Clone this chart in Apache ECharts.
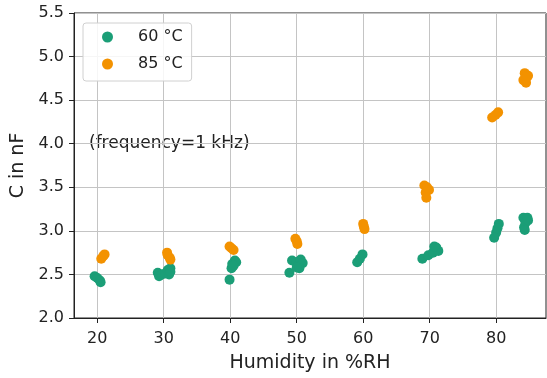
<!DOCTYPE html>
<html>
<head>
<meta charset="utf-8">
<script src="https://cdn.jsdelivr.net/npm/echarts@6/dist/echarts.min.js"></script>
<style>
  html, body { margin: 0; padding: 0; background: #ffffff; }
  #chart { width: 547px; height: 378px; }
</style>
</head>
<body>
<div id="chart"></div>
<script>
// 数据：湿度 (%RH) 与电容 (nF)
const humidity60 = [
  19.6, 20.0, 20.4, 20.5,
  29.1, 29.3, 29.7, 30.2, 30.6, 31.0, 30.8, 31.0,
  39.9, 40.2, 40.3, 40.7, 40.9, 40.5,
  48.9, 49.3, 49.9, 50.3, 50.6, 50.9, 50.4, 50.0,
  59.1, 59.5, 59.9,
  68.9, 69.8, 70.5, 71.0, 71.3, 70.7,
  80.4, 80.2, 80.0, 79.7,
  84.1, 84.7, 84.4, 84.2, 84.3, 84.8
];
const cap60 = [
  2.48, 2.46, 2.43, 2.41,
  2.52, 2.48, 2.50, 2.51, 2.55, 2.57, 2.50, 2.53,
  2.44, 2.57, 2.62, 2.66, 2.64, 2.60,
  2.52, 2.66, 2.64, 2.61, 2.67, 2.63, 2.57, 2.58,
  2.64, 2.68, 2.73,
  2.68, 2.72, 2.75, 2.81, 2.77, 2.82,
  3.08, 3.03, 2.98, 2.92,
  3.15, 3.15, 3.09, 3.04, 3.01, 3.12
];
const humidity85 = [
  20.6, 20.9, 21.1,
  30.5, 30.6, 30.9, 31.0,
  39.9, 40.2, 40.5,
  49.8, 50.0, 50.1,
  60.0, 60.1, 60.2,
  69.2, 69.6, 69.9, 69.4, 69.5,
  79.4, 79.9, 80.3,
  84.3, 84.8, 84.1, 84.5, 84.6
];
const cap85 = [
  2.68, 2.71, 2.73,
  2.75, 2.72, 2.69, 2.67,
  2.82, 2.80, 2.78,
  2.91, 2.88, 2.85,
  3.08, 3.05, 3.02,
  3.52, 3.50, 3.47, 3.44, 3.38,
  4.30, 4.33, 4.36,
  4.81, 4.78, 4.73, 4.70, 4.76
];
const xTicks = [20, 30, 40, 50, 60, 70, 80];
const seriesNames = ['60 °C', '85 °C'];

const FONT = '"DejaVu Sans", sans-serif';
const INK = '#222';

function zip(xs, ys) {
  return xs.map((x, i) => [x, ys[i]]);
}

let chart = echarts.init(document.getElementById('chart'));
let option = {
  animation: false,
  textStyle: { fontFamily: FONT },
  grid: {
    left: 74, right: 1, top: 13, bottom: 56,
    show: true, borderColor: INK, borderWidth: 1
  },
  legend: {
    left: 83, top: 23,
    orient: 'vertical',
    data: seriesNames,
    icon: 'circle',
    itemWidth: 11, itemHeight: 11,
    itemGap: 11,
    padding: [6, 9, 9, 19],
    backgroundColor: 'rgba(255,255,255,0.85)',
    borderColor: '#d0d0d0',
    borderWidth: 1,
    borderRadius: 3,
    itemStyle: { opacity: 1 },
    textStyle: { fontFamily: FONT, fontSize: 16, color: INK, padding: [0, 0, 0, 20] }
  },
  xAxis: {
    type: 'value',
    min: 16.5,
    max: 87.5,
    name: 'Humidity in %RH',
    nameLocation: 'middle',
    nameGap: 36,
    nameTextStyle: { fontFamily: FONT, fontSize: 19, color: INK },
    axisLine: { show: true, lineStyle: { color: INK, width: 1 } },
    axisTick: { show: true, customValues: xTicks, length: 5, lineStyle: { color: INK } },
    axisLabel: { customValues: xTicks, margin: 13, fontSize: 16, color: INK, fontFamily: FONT },
    splitLine: { show: true, lineStyle: { color: '#c4c4c4', width: 1 } }
  },
  yAxis: {
    type: 'value',
    min: 2,
    max: 5.5,
    interval: 0.5,
    name: 'C in nF',
    nameLocation: 'middle',
    nameGap: 46,
    nameTextStyle: { fontFamily: FONT, fontSize: 19, color: INK },
    axisLine: { show: true, lineStyle: { color: INK, width: 1 } },
    axisTick: { show: true, length: 5, lineStyle: { color: INK } },
    axisLabel: {
      margin: 10, fontSize: 16, color: INK, fontFamily: FONT,
      formatter: v => v.toFixed(1)
    },
    splitLine: { show: true, lineStyle: { color: '#c4c4c4', width: 1 } }
  },
  graphic: [
    {
      type: 'text',
      left: 89,
      top: 135,
      style: { text: '(frequency=1 kHz)', fontFamily: FONT, fontSize: 17, fill: INK }
    }
  ],
  series: [
    {
      name: seriesNames[0],
      type: 'scatter',
      symbolSize: 10,
      itemStyle: { color: '#1b9e77', opacity: 1 },
      data: zip(humidity60, cap60)
    },
    {
      name: seriesNames[1],
      type: 'scatter',
      symbolSize: 10,
      itemStyle: { color: '#f39200', opacity: 1 },
      data: zip(humidity85, cap85)
    }
  ]
};
chart.setOption(option);
</script>
</body>
</html>
